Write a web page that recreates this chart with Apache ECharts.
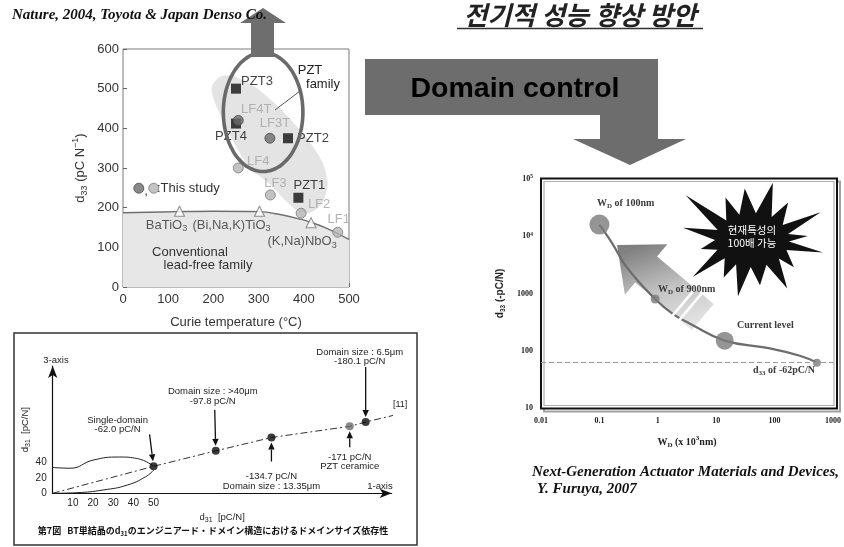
<!DOCTYPE html>
<html>
<head>
<meta charset="utf-8">
<script src="https://cdn.jsdelivr.net/npm/echarts@6/dist/echarts.min.js"></script>
<style>
html,body{margin:0;padding:0;background:#ffffff;}
#chart{width:844px;height:547px;}
</style>
</head>
<body>
<div id="chart"></div>
<script>
// ---------- Curie temperature vs d33 (lead-free ceramics vs PZT) ----------
const tcTickLabels  = ['0', '100', '200', '300', '400', '500'];
const d33TickLabels = ['0', '100', '200', '300', '400', '500', '600'];

const pztNames = ['PZT1', 'PZT2', 'PZT3', 'PZT4'];
const pztTc    = [388, 365, 250, 250];
const pztD33   = [225, 375, 500, 412];

const lfTNames = ['LF3T', 'LF4T'];
const lfTTc    = [325, 255];
const lfTD33   = [375, 420];

const lfNames = ['LF1', 'LF2', 'LF3', 'LF4'];
const lfTc    = [475, 394, 326, 255];
const lfD33   = [138, 186, 232, 300];

const convNames = ['BaTiO3', '(Bi,Na,K)TiO3', '(K,Na)NbO3'];
const convTc    = [125, 302, 416];
const convD33   = [191, 191, 162];

const studyKeyTc  = [35, 68];
const studyKeyD33 = [249, 249];

const leadFreeTc  = [0, 125, 200, 300, 350, 392, 416, 451, 500];
const leadFreeD33 = [187, 190, 191, 190, 182, 171, 163, 148, 120];

const pztZoneTc  = [200, 226, 271, 326, 381, 425, 450, 448, 425, 397, 370, 326, 282, 248, 215, 198];
const pztZoneD33 = [513, 533, 518, 473, 409, 346, 283, 232, 194, 187, 207, 258, 300, 359, 435, 485];

const familyRingCenter = [310, 441];
const familyRingRadius = [88, 150];

// ---------- BT single crystal: d31 vs domain size ----------
const d31TickLabels   = ['10', '20', '30', '40', '50'];
const d31VTickLabels  = ['0', '20', '40'];
const loopUpperX = [0, 8.6, 20, 33, 42, 50];
const loopUpperY = [33.5, 32.5, 43, 47, 45, 35];
const loopLowerX = [0, 12, 25, 37, 46, 50];
const loopLowerY = [0, 0.8, 4.3, 10.7, 21.4, 30];
const domainX = [50, 80.8, 108.4, 147.2, 155.1];
const domainY = [35, 55, 72.3, 86.8, 92.4];
const axis111X = [0, 50, 80.8, 108.4, 147.2, 155.1, 172];
const axis111Y = [0, 35, 55, 72.3, 86.8, 92.4, 103];

// ---------- Domain width vs d33 (log-log) ----------
const wdTickLabels  = ['0.01', '0.1', '1', '10', '100', '1000'];
const d33LogTicks   = ['10', '100', '1000', '10|4', '10|5'];
const wdCurve  = [0.1, 0.16, 0.3, 0.9, 1.8, 3.5, 14, 75, 270, 530];
const d33Curve = [16000, 8000, 2800, 800, 440, 300, 150, 112, 82, 62];
const wdMarks  = [0.1, 0.9, 14, 530];
const d33Marks = [16000, 800, 150, 62];
const d33Reference = 62;

const SANS  = '"Liberation Sans", Arial, sans-serif';
const SERIF = '"Liberation Serif", "Times New Roman", serif';
const KR = '"Noto Sans CJK KR", sans-serif';
const JP = '"Noto Sans CJK JP", sans-serif';

const zip = (a, b) => a.map((v, i) => [v, b[i]]);

// label placement around each marker (pixels)
const labelOffsets = {
  PZT1: [11, -12], PZT2: [25, 0], PZT3: [21, -7], PZT4: [-5, 13],
  LF3T: [5, -15], LF4T: [18, -11],
  LF1: [1, -13], LF2: [18, -9], LF3: [5, -12], LF4: [20, -7],
  'BaTiO3': [-13, 14], '(Bi,Na,K)TiO3': [-28, 14], '(K,Na)NbO3': [-9, 19]
};
const chemRich = {
  t: { fontSize: 13, fontFamily: SANS, color: '#333', lineHeight: 16, verticalAlign: 'middle' },
  s: { fontSize: 9, fontFamily: SANS, color: '#333', lineHeight: 9, verticalAlign: 'bottom' }
};
const chem = name => {
  const m = name.match(/^(.*?)(\d)$/);
  return m ? '{t|' + m[1] + '}{s|' + m[2] + '}' : '{t|' + name + '}';
};
const named = (names, xs, ys) => names.map((n, i) => ({ name: n, value: [xs[i], ys[i]], label: { offset: labelOffsets[n] } }));

const markerSizes = [20, 9, 18, 8];

const chart = echarts.init(document.getElementById('chart'), null, { renderer: 'canvas' });

const option = {
  animation: false,
  backgroundColor: '#ffffff',
  grid: [
    { left: 123, top: 49, width: 226, height: 238, show: true, borderColor: '#7a7a7a', borderWidth: 1, backgroundColor: 'transparent' },
    { left: 52.7, top: 366, width: 339, height: 127.3 },
    { left: 541, top: 179, width: 296, height: 229 }
  ],
  xAxis: [
    {
      gridIndex: 0, type: 'value', min: 0, max: 500, interval: 100,
      axisLine: { show: false }, splitLine: { show: false },
      axisTick: { show: true, inside: true, length: 4, lineStyle: { color: '#666' } },
      axisLabel: { color: '#333', fontSize: 13, fontFamily: SANS, margin: 6, formatter: (v) => tcTickLabels[Math.round(v / 100)] },
      name: 'Curie temperature (°C)', nameLocation: 'middle', nameGap: 29,
      nameTextStyle: { color: '#333', fontSize: 13, fontFamily: SANS }
    },
    {
      gridIndex: 1, type: 'value', min: 0, max: 168, interval: 10,
      axisLine: { show: true, symbol: ['none', 'arrow'], symbolSize: [7, 12], lineStyle: { color: '#111', width: 1.2 } },
      axisTick: { show: false }, splitLine: { show: false },
      axisLabel: { color: '#222', fontSize: 10, fontFamily: SANS, margin: 5,
        formatter: (v) => (v >= 10 && v <= 50) ? d31TickLabels[Math.round(v / 10) - 1] : '' },
      name: '{a|d}{s|31}{a|  [pC/N]}', nameLocation: 'middle', nameGap: 18,
      nameTextStyle: { rich: {
        a: { fontSize: 9.5, fontFamily: SANS, color: '#222', lineHeight: 12, verticalAlign: 'middle' },
        s: { fontSize: 7, fontFamily: SANS, color: '#222', lineHeight: 7, verticalAlign: 'bottom' } } }
    },
    {
      gridIndex: 2, type: 'log', logBase: 10, min: 0.01, max: 1000,
      axisLine: { show: false }, axisTick: { show: false }, splitLine: { show: false },
      axisLabel: { color: '#222', fontSize: 8, fontWeight: 'bold', fontFamily: SERIF, margin: 9,
        formatter: (v) => wdTickLabels[Math.round(Math.log10(v)) + 2] },
      name: '{b|W}{s|D}{b| (x 10}{p|3}{b|nm)}', nameLocation: 'middle', nameGap: 27,
      nameTextStyle: { rich: {
        b: { fontSize: 10, fontWeight: 'bold', fontFamily: SERIF, color: '#222', lineHeight: 14, verticalAlign: 'middle' },
        s: { fontSize: 7, fontWeight: 'bold', fontFamily: SERIF, color: '#222', lineHeight: 7, verticalAlign: 'bottom' },
        p: { fontSize: 7, fontWeight: 'bold', fontFamily: SERIF, color: '#222', lineHeight: 7, verticalAlign: 'top' } } }
    }
  ],
  yAxis: [
    {
      gridIndex: 0, type: 'value', min: 0, max: 600, interval: 100,
      axisLine: { show: false }, splitLine: { show: false },
      axisTick: { show: true, inside: true, length: 4, lineStyle: { color: '#666' } },
      axisLabel: { color: '#333', fontSize: 13, fontFamily: SANS, margin: 4, formatter: (v) => d33TickLabels[Math.round(v / 100)] },
      name: '{a|d}{s|33}{a| (pC N}{p|−1}{a|)}', nameLocation: 'middle', nameGap: 34, nameRotate: 90,
      nameTextStyle: { rich: {
        a: { fontSize: 13, fontFamily: SANS, color: '#333', lineHeight: 18, verticalAlign: 'middle' },
        s: { fontSize: 9, fontFamily: SANS, color: '#333', lineHeight: 9, verticalAlign: 'bottom' },
        p: { fontSize: 9, fontFamily: SANS, color: '#333', lineHeight: 9, verticalAlign: 'top' } } }
    },
    {
      gridIndex: 1, type: 'value', min: 0, max: 165, interval: 20,
      axisLine: { show: true, symbol: ['none', 'arrow'], symbolSize: [7, 12], lineStyle: { color: '#111', width: 1.2 } },
      axisTick: { show: false }, splitLine: { show: false },
      axisLabel: { color: '#222', fontSize: 10, fontFamily: SANS, margin: 6,
        formatter: (v) => v <= 40 ? d31VTickLabels[Math.round(v / 20)] : '' },
      name: '{a|d}{s|31}{a|  [pC/N]}', nameLocation: 'middle', nameGap: 19, nameRotate: 90,
      nameTextStyle: { rich: {
        a: { fontSize: 9.5, fontFamily: SANS, color: '#222', lineHeight: 12, verticalAlign: 'middle' },
        s: { fontSize: 7, fontFamily: SANS, color: '#222', lineHeight: 7, verticalAlign: 'bottom' } } }
    },
    {
      gridIndex: 2, type: 'log', logBase: 10, min: 10, max: 100000,
      axisLine: { show: false }, axisTick: { show: false }, splitLine: { show: false },
      axisLabel: { margin: 8,
        formatter: (v) => {
          const t = d33LogTicks[Math.round(Math.log10(v)) - 1].split('|');
          return t.length > 1 ? '{b|' + t[0] + '}{p|' + t[1] + '}' : '{b|' + t[0] + '}';
        },
        rich: {
          b: { fontSize: 8, fontWeight: 'bold', fontFamily: SERIF, color: '#222', lineHeight: 10, verticalAlign: 'middle' },
          p: { fontSize: 5.5, fontWeight: 'bold', fontFamily: SERIF, color: '#222', lineHeight: 6, verticalAlign: 'top' } } },
      name: '{b|d}{s|33}{b| (-pC/N)}', nameLocation: 'middle', nameGap: 34, nameRotate: 90,
      nameTextStyle: { rich: {
        b: { fontSize: 10, fontWeight: 'bold', fontFamily: SANS, color: '#222', lineHeight: 14, verticalAlign: 'middle' },
        s: { fontSize: 6.5, fontWeight: 'bold', fontFamily: SANS, color: '#222', lineHeight: 7, verticalAlign: 'bottom' } } }
    }
  ],
  series: [
    // shaded PZT zone
    {
      type: 'custom', xAxisIndex: 0, yAxisIndex: 0, silent: true, z: 1,
      data: zip(pztZoneTc, pztZoneD33),
      renderItem: (params, api) => {
        if (params.dataIndex !== 0) return null;
        const pts = pztZoneTc.map((t, i) => api.coord([t, pztZoneD33[i]]));
        return { type: 'polygon', shape: { points: pts, smooth: 0.45 }, style: { fill: '#e4e4e4' } };
      }
    },
    // conventional lead-free boundary with filled area below
    {
      type: 'line', xAxisIndex: 0, yAxisIndex: 0, smooth: 0.4, symbol: 'none', z: 2,
      data: zip(leadFreeTc, leadFreeD33),
      lineStyle: { color: '#6f6f6f', width: 1.4 },
      areaStyle: { color: '#e7e7e7', opacity: 1 }
    },
    {
      type: 'scatter', xAxisIndex: 0, yAxisIndex: 0, symbol: 'triangle', symbolSize: 10, z: 3,
      data: named(convNames, convTc, convD33),
      itemStyle: { color: '#ffffff', borderColor: '#777', borderWidth: 1.1 },
      label: { show: true, position: 'inside', formatter: (p) => chem(p.name), rich: chemRich }
    },
    {
      type: 'scatter', xAxisIndex: 0, yAxisIndex: 0, symbol: 'circle', symbolSize: 10, z: 3,
      data: named(lfNames, lfTc, lfD33),
      itemStyle: { color: '#b4b4b4', borderColor: '#7c7c7c', borderWidth: 1 },
      label: { show: true, position: 'inside', formatter: (p) => p.name, fontSize: 13, fontFamily: SANS, color: '#a2a2a2' }
    },
    {
      type: 'scatter', xAxisIndex: 0, yAxisIndex: 0, symbol: 'rect', symbolSize: 10, z: 3,
      data: named(pztNames, pztTc, pztD33),
      itemStyle: { color: '#111111' },
      label: { show: true, position: 'inside', formatter: (p) => p.name, fontSize: 13, fontFamily: SANS, color: '#111' }
    },
    {
      type: 'scatter', xAxisIndex: 0, yAxisIndex: 0, symbol: 'circle', symbolSize: 10, z: 4,
      data: named(lfTNames, lfTTc, lfTD33),
      itemStyle: { color: '#6c6c6c', borderColor: '#4a4a4a', borderWidth: 1 },
      label: { show: true, position: 'inside', formatter: (p) => p.name, fontSize: 13, fontFamily: SANS, color: '#a2a2a2' }
    },
    {
      type: 'scatter', xAxisIndex: 0, yAxisIndex: 0, symbol: 'circle', symbolSize: 10, z: 4,
      data: [
        { value: [studyKeyTc[0], studyKeyD33[0]], itemStyle: { color: '#6c6c6c', borderColor: '#4a4a4a' } },
        { value: [studyKeyTc[1], studyKeyD33[1]], itemStyle: { color: '#b4b4b4', borderColor: '#7c7c7c' } }
      ],
      itemStyle: { borderWidth: 1 }
    },
    // PZT family ring
    {
      type: 'custom', xAxisIndex: 0, yAxisIndex: 0, silent: true, z: 5,
      data: [familyRingCenter],
      renderItem: (params, api) => {
        const pts = [];
        for (let k = 0; k < 96; k++) {
          const a = k / 96 * Math.PI * 2;
          pts.push(api.coord([familyRingCenter[0] + familyRingRadius[0] * Math.cos(a), familyRingCenter[1] + familyRingRadius[1] * Math.sin(a)]));
        }
        return { type: 'polygon', shape: { points: pts, smooth: 0.2 }, style: { fill: 'none', stroke: '#6a6a6a', lineWidth: 3.6 } };
      }
    },

    // ---- d31 schematic ----
    {
      type: 'line', xAxisIndex: 1, yAxisIndex: 1, smooth: 0.5, symbol: 'none',
      data: zip(loopUpperX, loopUpperY), lineStyle: { color: '#222', width: 1 }
    },
    {
      type: 'line', xAxisIndex: 1, yAxisIndex: 1, smooth: 0.5, symbol: 'none',
      data: zip(loopLowerX, loopLowerY), lineStyle: { color: '#222', width: 1 }
    },
    {
      type: 'line', xAxisIndex: 1, yAxisIndex: 1, symbol: 'none',
      data: zip(axis111X, axis111Y), lineStyle: { color: '#333', width: 1, type: [7, 3, 2, 3] }
    },
    {
      type: 'scatter', xAxisIndex: 1, yAxisIndex: 1, symbol: 'circle', symbolSize: 8, z: 4,
      data: domainX.map((x, i) => ({ value: [x, domainY[i]], itemStyle: { color: i === 3 ? '#6a6a6a' : '#0a0a0a' } }))
    },

    // ---- domain width vs d33 ----
    {
      type: 'line', xAxisIndex: 2, yAxisIndex: 2, smooth: 0.45, symbol: 'none', z: 3,
      data: zip(wdCurve, d33Curve), lineStyle: { color: '#6c6c6c', width: 2.2 },
      markLine: {
        silent: true, symbol: 'none', label: { show: false },
        lineStyle: { color: '#9a9a9a', width: 1, type: [5, 3] },
        data: [{ yAxis: d33Reference }]
      }
    },
    {
      type: 'scatter', xAxisIndex: 2, yAxisIndex: 2, symbol: 'circle', z: 4,
      symbolSize: (v, p) => markerSizes[p.dataIndex],
      data: zip(wdMarks, d33Marks), itemStyle: { color: '#7a7a7a' }
    }
  ]
};
chart.setOption(option);

// ---------- annotation layer ----------
function arrowEls(x1, y1, x2, y2, color) {
  const dx = x2 - x1, dy = y2 - y1, L = Math.hypot(dx, dy), ux = dx / L, uy = dy / L, hl = 7, hw = 3.2;
  const bx = x2 - ux * hl, by = y2 - uy * hl;
  return [
    { type: 'line', z: 50, shape: { x1: x1, y1: y1, x2: bx, y2: by }, style: { stroke: color, lineWidth: 1.3 } },
    { type: 'polygon', z: 50, shape: { points: [[x2, y2], [bx - uy * hw, by + ux * hw], [bx + uy * hw, by - ux * hw]] }, style: { fill: color } }
  ];
}
function txt(x, y, text, font, fill, align, extra) {
  return Object.assign({ type: 'text', x: x, y: y, z: 100,
    style: { text: text, font: font, fill: fill, align: align || 'center', textAlign: align || 'center', verticalAlign: 'middle', textVerticalAlign: 'middle' } }, extra || {});
}

const g = [];

// big upward arrow out of the PZT ring
g.push({ type: 'polygon', z: 6, shape: { points: [[251, 57], [251, 23], [240, 23], [263, 8], [286, 23], [274, 23], [274, 57]] }, style: { fill: '#6e6e6e' } });
// "Domain control" bent arrow
g.push({ type: 'polygon', z: 1, shape: { points: [[365, 59], [658, 59], [658, 139], [686, 139], [630, 165], [573, 139], [600, 139], [600, 115], [365, 115]] }, style: { fill: '#6d6d6d' } });
g.push(txt(515, 89, 'Domain control', 'bold 28.5px ' + SANS, '#000'));

// titles and references
g.push(txt(12, 15, 'Nature, 2004, Toyota & Japan Denso Co.', 'italic bold 15px ' + SERIF, '#111', 'left'));
g.push(txt(580, 15, '전기적 성능 향상 방안', 'italic bold 26px ' + KR, '#222'));
g.push({ type: 'line', z: 100, shape: { x1: 457, y1: 28.5, x2: 703, y2: 28.5 }, style: { stroke: '#333', lineWidth: 1.5 } });
g.push(txt(532, 472, 'Next-Generation Actuator Materials and Devices,', 'italic bold 15px ' + SERIF, '#111', 'left'));
g.push(txt(537, 489, 'Y. Furuya, 2007', 'italic bold 15px ' + SERIF, '#111', 'left'));

// notes in the Curie temperature plot
g.push(txt(310, 70, 'PZT', '13px ' + SANS, '#222'));
g.push(txt(323, 84, 'family', '13px ' + SANS, '#222'));
g.push({ type: 'line', z: 60, shape: { x1: 300, y1: 91, x2: 275, y2: 110 }, style: { stroke: '#555', lineWidth: 1 } });
g.push(txt(146, 191, ',', '13px ' + SANS, '#333'));
g.push(txt(157, 188, ':This study', '13px ' + SANS, '#333', 'left'));
g.push(txt(190, 252, 'Conventional', '13px ' + SANS, '#333'));
g.push(txt(208, 265, 'lead-free family', '13px ' + SANS, '#333'));

// d31 schematic frame and notes
g.push({ type: 'rect', z: 1, shape: { x: 14, y: 333, width: 403, height: 212 }, style: { fill: 'none', stroke: '#333', lineWidth: 1.5 } });
g.push(txt(56, 360, '3-axis', '9.5px ' + SANS, '#222'));
g.push(txt(380, 486, '1-axis', '9.5px ' + SANS, '#222'));
g.push(txt(393, 405, '[11]', '9px ' + SANS, '#222', 'left'));
g.push(txt(213, 531, '{b|第7図   BT単結晶のd}{s|31}{b|のエンジニアード・ドメイン構造におけるドメインサイズ依存性}', '', '#111', 'center', {}));
g[g.length - 1].style.rich = {
  b: { font: 'bold 9px ' + JP, fill: '#111', lineHeight: 12, verticalAlign: 'middle' },
  s: { font: 'bold 6px ' + JP, fill: '#111', lineHeight: 6, verticalAlign: 'bottom' }
};

const notes = [
  { dot: 0, lines: ['Single-domain', '-62.0 pC/N'], text: [-36, -46], tail: [-4, -32] },
  { dot: 1, lines: ['Domain size : >40μm', '-97.8 pC/N'], text: [-3, -59], tail: [-1, -41] },
  { dot: 2, lines: ['-134.7 pC/N', 'Domain size : 13.35μm'], text: [0, 39], tail: [0, 24] },
  { dot: 3, lines: ['-171 pC/N', 'PZT ceramice'], text: [0, 31], tail: [0, 21] },
  { dot: 4, lines: ['Domain size : 6.5μm', '-180.1 pC/N'], text: [-6, -70], tail: [0, -55] }
];
notes.forEach((n) => {
  const p = chart.convertToPixel({ gridIndex: 1 }, [domainX[n.dot], domainY[n.dot]]);
  n.lines.forEach((s, k) => g.push(txt(p[0] + n.text[0], p[1] + n.text[1] + k * 9.5, s, '9.5px ' + SANS, '#222')));
  const tx = p[0] + n.tail[0], ty = p[1] + n.tail[1];
  const L = Math.hypot(p[0] - tx, p[1] - ty);
  const gap = 5;
  arrowEls(tx, ty, p[0] - (p[0] - tx) / L * gap, p[1] - (p[1] - ty) / L * gap, '#111').forEach((e) => g.push(e));
});

// frame of the log-log plot
g.push({ type: 'rect', z: 1, shape: { x: 544, y: 181.5, width: 296, height: 230 }, style: { fill: 'none', stroke: '#a0a0a0', lineWidth: 2 } });
g.push({ type: 'rect', z: 1, shape: { x: 541, y: 178.5, width: 296, height: 230 }, style: { fill: '#ffffff', stroke: '#111', lineWidth: 2 } });
g.push({ type: 'rect', z: 1, shape: { x: 544, y: 181.5, width: 290, height: 224 }, style: { fill: 'none', stroke: '#b0b0b0', lineWidth: 1.2 } });

// shaded arrow pointing to smaller domains
(function () {
  const T = [617, 245], a = 40 * Math.PI / 180;
  const u = [Math.cos(a), Math.sin(a)], v = [-Math.sin(a), Math.cos(a)];
  const P = (s, w) => [T[0] + s * u[0] + w * v[0], T[1] + s * u[1] + w * v[1]];
  g.push({ type: 'polygon', z: 1,
    shape: { points: [P(0, 0), P(38, -33), P(38, -17), P(112, -17), P(112, 17), P(38, 17), P(38, 33)] },
    style: { fill: { type: 'linear', x: 0.3, y: 0, x2: 0.6, y2: 1, colorStops: [
      { offset: 0, color: '#808080' }, { offset: 0.55, color: '#c4c4c4' }, { offset: 1, color: '#e4e4e4' } ] } } });
  [88, 96].forEach((s) => {
    const p1 = P(s, -19), p2 = P(s, 22);
    g.push({ type: 'line', z: 20, shape: { x1: p1[0], y1: p1[1], x2: p2[0], y2: p2[1] }, style: { stroke: '#ffffff', lineWidth: 2.6 } });
  });
})();

// starburst callout
(function () {
  const cx = 752, cy = 240;
  const spikes = [[10, 72], [33, 50], [54, 60], [80, 46], [104, 58], [127, 47], [148, 70], [170, 52],
                  [190, 70], [214, 80], [238, 50], [262, 52], [290, 61], [314, 52], [338, 74], [356, 56]];
  const pts = [];
  spikes.forEach((s, i) => {
    const a = s[0] * Math.PI / 180;
    pts.push([cx + s[1] * Math.cos(a), cy + s[1] * Math.sin(a)]);
    let b = spikes[(i + 1) % spikes.length][0];
    if (b < s[0]) b += 360;
    const m = (s[0] + b) / 2 * Math.PI / 180;
    pts.push([cx + 37 * Math.cos(m), cy + 27 * Math.sin(m)]);
  });
  g.push({ type: 'polygon', z: 5, shape: { points: pts }, style: { fill: '#111' } });
  g.push(txt(752, 230, '현재특성의', '10.5px ' + KR, '#fff'));
  g.push(txt(752, 243, '100배 가능', '10.5px ' + KR, '#fff'));
})();

// point notes in the log-log plot
const wdRich = {
  b: { font: 'bold 10px ' + SERIF, fill: '#3c3c3c', lineHeight: 13, verticalAlign: 'middle' },
  s: { font: 'bold 7px ' + SERIF, fill: '#3c3c3c', lineHeight: 7, verticalAlign: 'bottom' }
};
[[597, 203, '{b|W}{s|D}{b| of 100nm}'], [658, 289, '{b|W}{s|D}{b| of 900nm}'], [737, 325, '{b|Current level}'], [753, 370, '{b|d}{s|33}{b| of -62pC/N}']]
  .forEach((t) => { const e = txt(t[0], t[1], t[2], '', '#3c3c3c', 'left'); e.style.rich = wdRich; g.push(e); });

chart.setOption({ graphic: { elements: g } });
</script>
</body>
</html>
